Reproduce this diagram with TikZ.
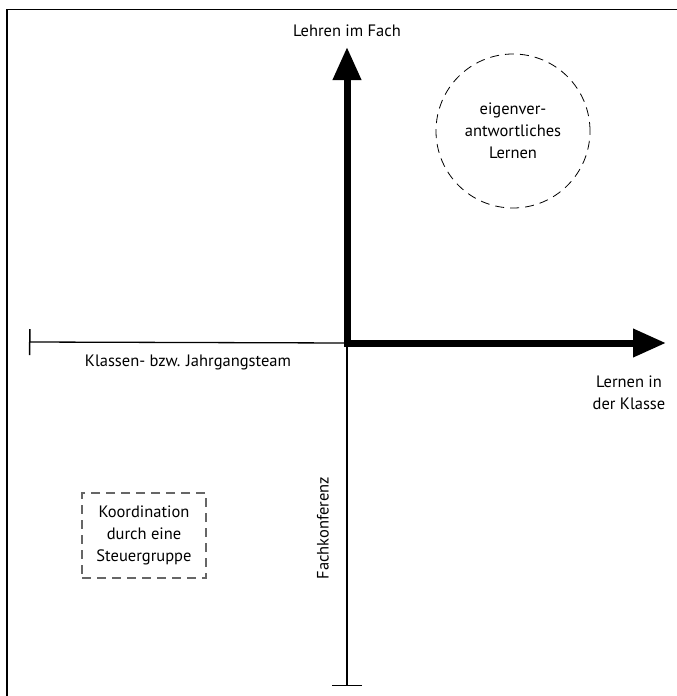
\documentclass[tikz,border=0pt]{standalone}
\usepackage{fontspec}
\setmainfont{PT Sans}
\usetikzlibrary{arrows.meta}
\begin{document}
\begin{tikzpicture}[x=1pt,y=-1pt,
  lbl/.style={font=\fontsize{16.5}{22}\selectfont, inner sep=0pt, align=center},
  thickarrow/.style={line width=7pt, {Triangle[length=33pt,width=27pt]}-{Triangle[length=33pt,width=27pt]}},
  thinline/.style={line width=1.3pt},
  frameline/.style={line width=1.6pt}]
\useasboundingbox (0,0) rectangle (677,696);
% frame
\coordinate (fbl) at (7,696);
\coordinate (ftl) at (7,9.5);
\coordinate (ftr) at (677,9.5);
\draw[frameline] (fbl) -- (ftl) -- (ftr);
% axes
\coordinate (O) at (347,343);
\coordinate (top) at (347,47);
\coordinate (right) at (666,343);
\coordinate (left) at (29,342);
\coordinate (bottom) at (347,686);
\draw[thinline, {Bar[width=26pt,line width=1.5pt]}-] (left) -- (O);
\draw[thinline, -{Bar[width=30pt,line width=1.5pt]}] (O) -- (bottom);
\draw[thickarrow, line join=miter] (top) -- (O) -- (right);
% labels
\node[lbl] (lf) at (347,31) {Lehren im Fach};
\node[lbl] (kj) at (188,362) {Klassen- bzw. Jahrgangsteam};
\node[lbl, align=center] (lk) at (629,393) {Lernen in\\der Klasse};
\node[lbl, rotate=90] (fk) at (323,528) {Fachkonferenz};
% circle
\node[lbl, circle, draw, dash pattern=on 9pt off 6pt, line width=0.8pt, minimum size=154pt] (el) at (513,131) {eigenver-\\antwortliches\\Lernen};
% dashed box
\node[lbl, draw=black!60, dash pattern=on 9pt off 6pt, line width=1.1pt, minimum width=124pt, minimum height=85pt] (ks) at (144,535.5) {Koordination\\durch eine\\Steuergruppe};
\end{tikzpicture}
\end{document}
